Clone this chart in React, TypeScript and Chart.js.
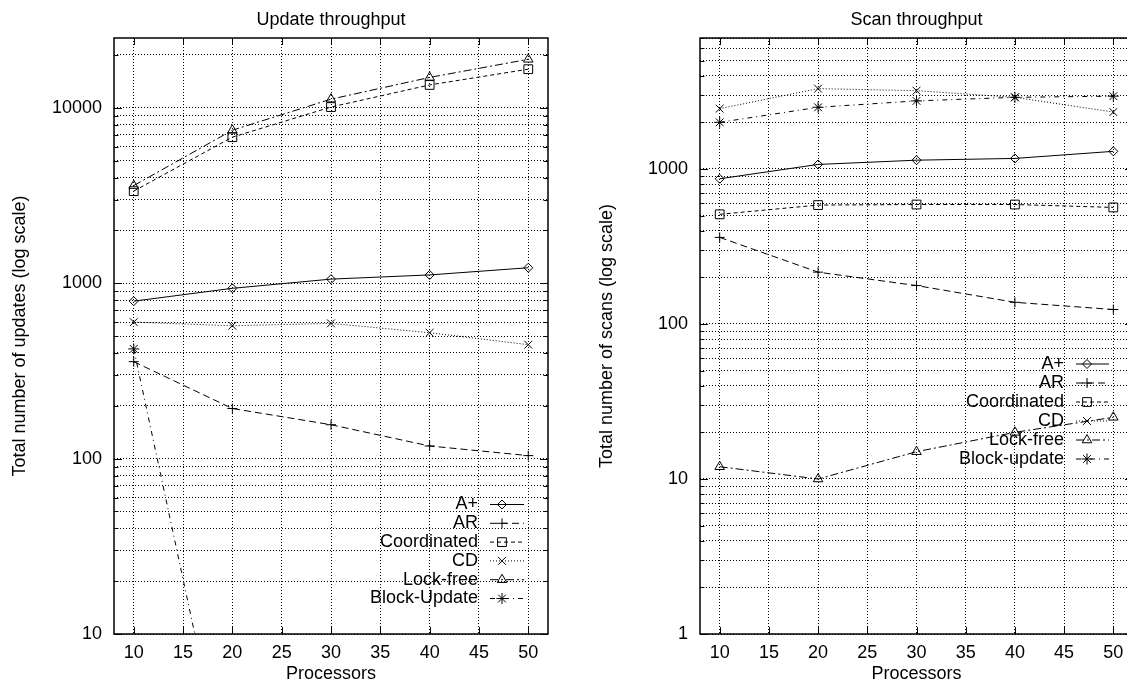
import { useEffect, useRef } from 'react';
import { Chart, registerables } from 'chart.js';
import { drawPoint } from 'chart.js/helpers';

Chart.register(...registerables);

// Processor counts measured and x-axis tick positions
const processors = [10, 20, 30, 40, 50];
const xTickValues = [10, 15, 20, 25, 30, 35, 40, 45, 50];

// Update throughput: total number of updates
const updAPlus = [790, 935, 1055, 1115, 1225];
const updAR = [357, 193, 156, 118, 104];
const updCoordinated = [3350, 6800, 10100, 13500, 16600];
const updCD = [600, 572, 590, 522, 446];
const updLockFree = [3600, 7450, 11200, 14900, 18900];
const updBlockUpdate = [422, 1, 1, 1, 1];

// Scan throughput: total number of scans
const scanAPlus = [865, 1070, 1140, 1170, 1300];
const scanAR = [362, 216, 177, 138, 124];
const scanCoordinated = [510, 585, 590, 590, 565];
const scanCD = [2450, 3300, 3200, 2900, 2330];
const scanLockFree = [12, 10, 15, 20, 25];
const scanBlockUpdate = [2000, 2500, 2750, 2900, 2950];

const updLabels = ['A+', 'AR', 'Coordinated', 'CD', 'Lock-free', 'Block-Update'];
const scanLabels = ['A+', 'AR', 'Coordinated', 'CD', 'Lock-free', 'Block-update'];

const updYRange = [10, 25000];
const scanYRange = [1, 7000];

const FONT = '"Liberation Sans", Arial, Helvetica, sans-serif';
const FONT_SIZE = 18;

// Marker and dash style for each series, in legend order
const seriesStyles = [
  { pointStyle: 'rectRot', radius: 4.5, dash: [] as number[] },
  { pointStyle: 'cross', radius: 5, dash: [7, 4] },
  { pointStyle: 'rect', radius: 6.2, dash: [4, 3] },
  { pointStyle: 'crossRot', radius: 5.5, dash: [1, 2] },
  { pointStyle: 'triangle', radius: 5.5, dash: [8, 3, 2, 3] },
  { pointStyle: 'star', radius: 5.5, dash: [5, 4, 1, 4] },
];

const isPow10 = (v: number) => Math.abs(Math.log10(v) - Math.round(Math.log10(v))) < 1e-9;

// 1..9 x 10^k ticks inside [min, max]
function logTicks(min: number, max: number) {
  const out: number[] = [];
  for (let e = Math.floor(Math.log10(min)); e <= Math.ceil(Math.log10(max)); e++) {
    for (let m = 1; m < 10; m++) {
      const v = m * Math.pow(10, e);
      if (v >= min * 0.999 && v <= max * 1.001) out.push(v);
    }
  }
  return out;
}

// Plot border with inward tick marks on all four sides
const framePlugin = {
  id: 'frame',
  afterDatasetsDraw(chart: any) {
    const { ctx, chartArea: a, scales } = chart;
    const xs = scales.x;
    const ys = scales.y;
    ctx.save();
    ctx.strokeStyle = '#000';
    ctx.lineWidth = 1;
    ctx.setLineDash([]);
    ctx.beginPath();
    for (const v of xTickValues) {
      const px = Math.round(xs.getPixelForValue(v)) + 0.5;
      ctx.moveTo(px, a.bottom);
      ctx.lineTo(px, a.bottom - 7);
      ctx.moveTo(px, a.top);
      ctx.lineTo(px, a.top + 7);
    }
    for (const t of ys.ticks) {
      const len = isPow10(t.value) ? 8 : 4.5;
      const py = Math.round(ys.getPixelForValue(t.value)) + 0.5;
      ctx.moveTo(a.left, py);
      ctx.lineTo(a.left + len, py);
      ctx.moveTo(a.right, py);
      ctx.lineTo(a.right - len, py);
    }
    ctx.stroke();
    ctx.lineWidth = 1.5;
    ctx.strokeRect(a.left, a.top, a.right - a.left, a.bottom - a.top);
    ctx.restore();
  },
};

type KeyLayout = { textDx: number; lineDx0: number; lineDx1: number; markDx: number; dy0: number; rowH: number };

// Key drawn inside the plot: right-aligned label, then a line sample with its marker
function keyPlugin(k: KeyLayout) {
  return {
    id: 'key',
    afterDatasetsDraw(chart: any) {
      const { ctx, chartArea: a } = chart;
      ctx.save();
      ctx.font = `${FONT_SIZE}px ${FONT}`;
      ctx.textAlign = 'right';
      ctx.textBaseline = 'middle';
      chart.data.datasets.forEach((ds: any, i: number) => {
        const y = a.bottom + k.dy0 + i * k.rowH;
        ctx.fillStyle = '#000';
        ctx.fillText(ds.label, a.right + k.textDx, y);
        ctx.strokeStyle = '#000';
        ctx.lineWidth = 1;
        ctx.setLineDash(ds.borderDash || []);
        ctx.beginPath();
        ctx.moveTo(a.right + k.lineDx0, y);
        ctx.lineTo(a.right + k.lineDx1, y);
        ctx.stroke();
        ctx.setLineDash([]);
        ctx.fillStyle = 'rgba(0,0,0,0)';
        drawPoint(ctx, { pointStyle: ds.pointStyle, radius: ds.pointRadius, rotation: 0, borderWidth: 1 } as any, a.right + k.markDx, y);
      });
      ctx.restore();
    },
  };
}

type PanelSpec = {
  title: string;
  yTitle: string;
  labels: string[];
  series: number[][];
  yRange: number[];
  yAxisWidth: number;
  yTitlePad: number;
  key: KeyLayout;
};

function makeConfig(p: PanelSpec): any {
  const font = { family: FONT, size: FONT_SIZE, weight: 'normal' as const };
  const gridLine = { color: '#000', lineWidth: 1, drawTicks: false };
  return {
    type: 'line',
    data: {
      labels: processors,
      datasets: p.series.map((vals, i) => ({
        label: p.labels[i],
        data: processors.map((x, j) => ({ x, y: vals[j] })),
        borderColor: '#000',
        borderWidth: 1,
        borderDash: seriesStyles[i].dash,
        pointStyle: seriesStyles[i].pointStyle,
        pointRadius: seriesStyles[i].radius,
        pointBorderWidth: 1,
        pointBorderColor: '#000',
        pointBackgroundColor: 'rgba(0,0,0,0)',
        fill: false,
        tension: 0,
      })),
    },
    options: {
      responsive: false,
      animation: false,
      events: [],
      layout: { padding: { left: 0, right: 12, top: 0, bottom: 0 } },
      plugins: {
        legend: { display: false },
        tooltip: { enabled: false },
        title: {
          display: true,
          text: p.title,
          fullSize: false,
          color: '#000',
          font,
          padding: { top: 9.5, bottom: 6.9 },
        },
      },
      scales: {
        x: {
          type: 'linear',
          min: 8,
          max: 52,
          afterBuildTicks: (s: any) => {
            s.ticks = xTickValues.map((v) => ({ value: v }));
          },
          afterFit: (s: any) => {
            s.height = 48;
          },
          grid: gridLine,
          border: { display: false, dash: [1, 2] },
          ticks: { color: '#000', font, padding: 8, autoSkip: false, maxRotation: 0 },
          title: { display: true, text: 'Processors', color: '#000', font, padding: { top: 0, bottom: -2.5 } },
        },
        y: {
          type: 'logarithmic',
          min: p.yRange[0],
          max: p.yRange[1],
          afterBuildTicks: (s: any) => {
            s.ticks = logTicks(p.yRange[0], p.yRange[1]).map((v) => ({ value: v }));
          },
          afterFit: (s: any) => {
            s.width = p.yAxisWidth;
          },
          grid: gridLine,
          border: { display: false, dash: [1, 2] },
          ticks: {
            color: '#000',
            font,
            padding: 12,
            autoSkip: false,
            callback: (v: any) => (isPow10(Number(v)) ? String(Math.round(Number(v))) : ''),
          },
          title: { display: true, text: p.yTitle, color: '#000', font, padding: { top: p.yTitlePad, bottom: 0 } },
        },
      },
    },
    plugins: [framePlugin, keyPlugin(p.key)],
  };
}

const updatePanel: PanelSpec = {
  title: 'Update throughput',
  yTitle: 'Total number of updates (log scale)',
  labels: updLabels,
  series: [updAPlus, updAR, updCoordinated, updCD, updLockFree, updBlockUpdate],
  yRange: updYRange,
  yAxisWidth: 114,
  yTitlePad: 9.7,
  key: { textDx: -70, lineDx0: -58, lineDx1: -24, markDx: -46, dy0: -129.5, rowH: 18.8 },
};

const scanPanel: PanelSpec = {
  title: 'Scan throughput',
  yTitle: 'Total number of scans (log scale)',
  labels: scanLabels,
  series: [scanAPlus, scanAR, scanCoordinated, scanCD, scanLockFree, scanBlockUpdate],
  yRange: scanYRange,
  yAxisWidth: 120,
  yTitlePad: 16.2,
  key: { textDx: -69, lineDx0: -57, lineDx1: -24, markDx: -46, dy0: -270, rowH: 19 },
};

function Panel({ spec, left, width }: { spec: PanelSpec; left: number; width: number }) {
  const ref = useRef<HTMLCanvasElement>(null);
  useEffect(() => {
    if (!ref.current) return;
    const chart = new Chart(ref.current, makeConfig(spec));
    return () => chart.destroy();
  }, [spec]);
  return (
    <canvas
      ref={ref}
      width={width}
      height={682}
      style={{ position: 'absolute', left, top: 0, width, height: 682 }}
    />
  );
}

export default function App() {
  return (
    <div
      style={{
        position: 'fixed',
        left: 0,
        top: 0,
        width: 1127,
        height: 682,
        overflow: 'hidden',
        background: '#fff',
      }}
    >
      <Panel spec={updatePanel} left={0} width={560} />
      <Panel spec={scanPanel} left={580} width={565} />
    </div>
  );
}
